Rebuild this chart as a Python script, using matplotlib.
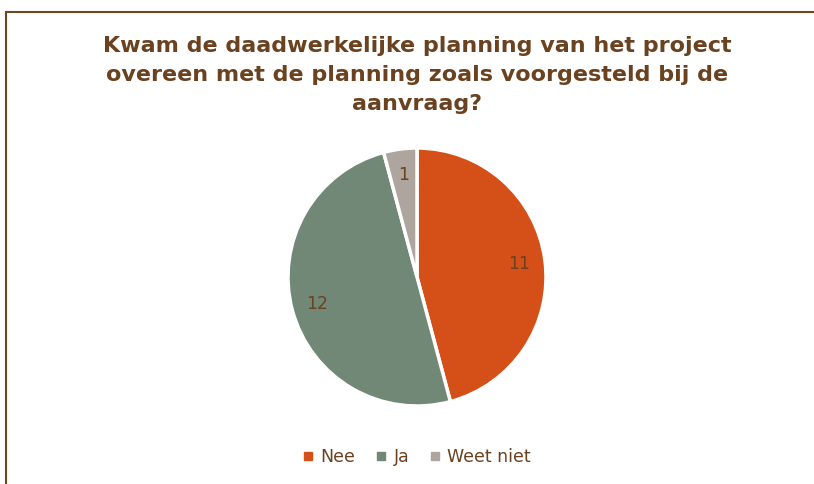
import matplotlib.pyplot as plt
from matplotlib.patches import Rectangle
from matplotlib.lines import Line2D

categories = ['Nee', 'Ja', 'Weet niet']
values = [11, 12, 1]
colors = ['#D55019', '#718877', '#ADA59E']

text_color = '#6B4220'
title = ('Kwam de daadwerkelijke planning van het project\n'
         'overeen met de planning zoals voorgesteld bij de\n'
         'aanvraag?')

W, H = 814, 484
fig = plt.figure(figsize=(W / 100, H / 100), dpi=100)
fig.patch.set_facecolor('white')

# rand van het diagramgebied (loopt rechts en onder door buiten beeld)
fig.patches.append(Rectangle((6 / W, -0.1), 1.2, 1 - 12 / H + 0.1,
                             transform=fig.transFigure, fill=False,
                             edgecolor='#6B4A22', linewidth=1.5))

cx, cy, r = 417, 277, 129
ax = fig.add_axes([(cx - r) / W, (H - cy - r) / H, 2 * r / W, 2 * r / H])
wedges, texts, autotexts = ax.pie(
    values, colors=colors, startangle=90, counterclock=False,
    autopct=lambda p: '%d' % round(p * sum(values) / 100),
    pctdistance=0.8, wedgeprops=dict(edgecolor='white', linewidth=2.5),
    textprops=dict(color=text_color, fontsize=12.5))
ax.set_xlim(-1, 1)
ax.set_ylim(-1, 1)
ax.set_aspect('equal')

fig.text(cx / W, 1 - 36 / H, title, ha='center', va='top',
         fontsize=16, fontweight='bold', color=text_color,
         linespacing=1.55)

handles = [Line2D([], [], marker='s', linestyle='', markersize=6,
                  markerfacecolor=c, markeredgecolor=c) for c in colors]
fig.legend(handles, categories, loc='center', bbox_to_anchor=(cx / W, 1 - 457 / H),
           ncol=3, frameon=False, fontsize=12.5, labelcolor=text_color,
           handlelength=0.6, handletextpad=0.4, columnspacing=1.2)

fig.savefig('out.png', dpi=100)
